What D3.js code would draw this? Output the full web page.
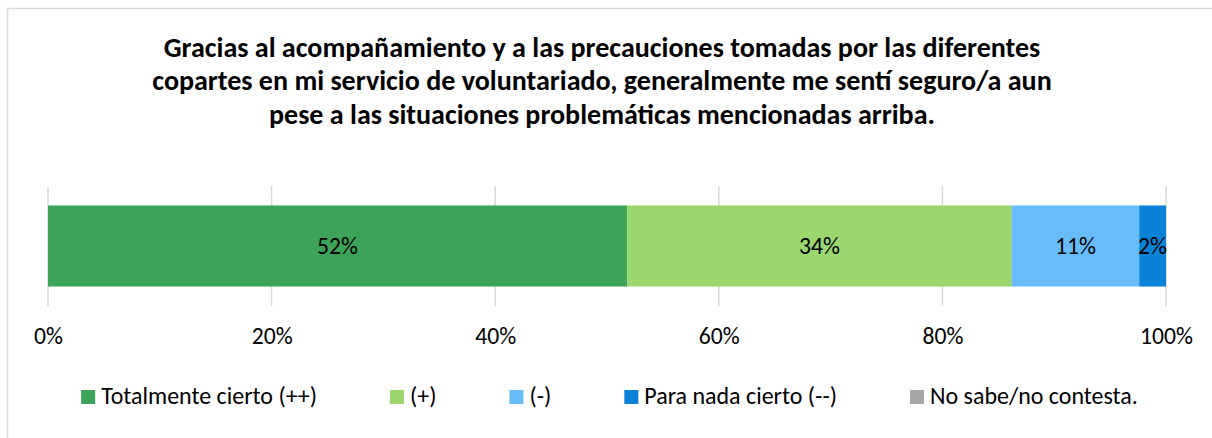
<!DOCTYPE html>
<html>
<head>
<meta charset="utf-8">
<script src="https://cdn.jsdelivr.net/npm/d3@7"></script>
<style>
  html, body { margin: 0; padding: 0; background: #fff; }
  svg { display: block; }
  text { font-family: Carlito, Calibri, Lato, sans-serif; fill: #000; }
</style>
</head>
<body>
<svg id="chart" width="1212" height="438"></svg>
<script>
// ---- data ----
const titleLines = [
  "Gracias al acompañamiento y a las precauciones tomadas por las diferentes",
  "copartes en mi servicio de voluntariado, generalmente me sentí seguro/a aun",
  "pese a las situaciones problemáticas mencionadas arriba."
];
const seriesNames = ["Totalmente cierto (++)", "(+)", "(-)", "Para nada cierto (--)", "No sabe/no contesta."];
const seriesValues = [0.518, 0.344, 0.114, 0.024, 0];
const seriesColors = ["#3ea35a", "#9bd66e", "#66bdf9", "#0a82d7", "#a6a6a6"];
const tickValues = [0, 0.2, 0.4, 0.6, 0.8, 1.0];
const tickLabels = ["0%", "20%", "40%", "60%", "80%", "100%"];

// ---- layout ----
const svg = d3.select("#chart");
const W = 1212, H = 438;
svg.append("rect").attr("x", 0).attr("y", 0).attr("width", W).attr("height", H).attr("fill", "#fff");
svg.append("rect").attr("x", 7.5).attr("y", 8.5).attr("width", 1300).attr("height", 500)
   .attr("fill", "none").attr("stroke", "#d9d9d9").attr("stroke-width", 1.5);

const x = d3.scaleLinear().domain([0, 1]).range([48, 1166]);
const y = d3.scaleBand().domain(["row"]).range([186, 306]).paddingInner(0).paddingOuter(0.24);

// font size so that a string reaches a target width
function fitSize(str, weight, targetW) {
  const t = svg.append("text").attr("font-size", 100).attr("font-weight", weight).text(str);
  const w = t.node().getComputedTextLength();
  t.remove();
  return 100 * targetW / w;
}
function measure(str, size, weight) {
  const t = svg.append("text").attr("font-size", size).attr("font-weight", weight).text(str);
  const w = t.node().getComputedTextLength();
  t.remove();
  return w;
}

// title
const titleSize = fitSize(titleLines[0], "bold", 877);
svg.append("g").selectAll("text").data(titleLines).join("text")
  .attr("x", 602)
  .attr("y", (d, i) => 57 + i * 33.3)
  .attr("text-anchor", "middle")
  .attr("font-weight", "bold")
  .attr("font-size", titleSize)
  .text(d => d);

// gridlines
svg.append("g").selectAll("line").data(tickValues).join("line")
  .attr("x1", d => x(d)).attr("x2", d => x(d))
  .attr("y1", 186).attr("y2", 306)
  .attr("stroke", "#d9d9d9").attr("stroke-width", 1.5);

// axis
const labelSize = fitSize("100%", "normal", 53);
const axis = d3.axisBottom(x).tickValues(tickValues).tickSize(0)
  .tickFormat((d, i) => tickLabels[i]);
const ag = svg.append("g").attr("transform", "translate(0,306)").call(axis);
ag.select(".domain").remove();
ag.selectAll("text")
  .attr("font-size", labelSize)
  .attr("font-family", "Carlito, Calibri, Lato, sans-serif")
  .attr("fill", "#000")
  .attr("dy", null)
  .attr("y", 38);

// stacked bar
const row = {};
seriesNames.forEach((n, i) => row[n] = seriesValues[i]);
const stack = d3.stack().keys(seriesNames)([row]);
const segs = svg.append("g").selectAll("g").data(stack).join("g");
segs.append("rect")
  .attr("x", d => x(d[0][0]))
  .attr("width", d => x(d[0][1]) - x(d[0][0]))
  .attr("y", y("row"))
  .attr("height", y.bandwidth())
  .attr("fill", (d, i) => seriesColors[i]);
segs.filter(d => d[0][1] - d[0][0] > 0).append("text")
  .attr("x", d => (x(d[0][0]) + x(d[0][1])) / 2)
  .attr("y", y("row") + y.bandwidth() / 2)
  .attr("dy", "0.35em")
  .attr("text-anchor", "middle")
  .attr("font-size", labelSize)
  .text(d => Math.round((d[0][1] - d[0][0]) * 100) + "%");

// legend
const legSize = fitSize(seriesNames[0], "normal", 216);
const sq = 14, gapText = 6, gapItem = 73;
const lg = svg.append("g");
const widths = seriesNames.map(n => measure(n, legSize, "normal"));
const total = d3.sum(widths) + seriesNames.length * (sq + gapText) + (seriesNames.length - 1) * gapItem;
let cx = 609.5 - total / 2;
seriesNames.forEach((n, i) => {
  lg.append("rect").attr("x", cx).attr("y", 390).attr("width", sq).attr("height", sq).attr("fill", seriesColors[i]);
  lg.append("text").attr("x", cx + sq + gapText).attr("y", 403.5).attr("font-size", legSize).text(n);
  cx += sq + gapText + widths[i] + gapItem;
});
</script>
</body>
</html>
